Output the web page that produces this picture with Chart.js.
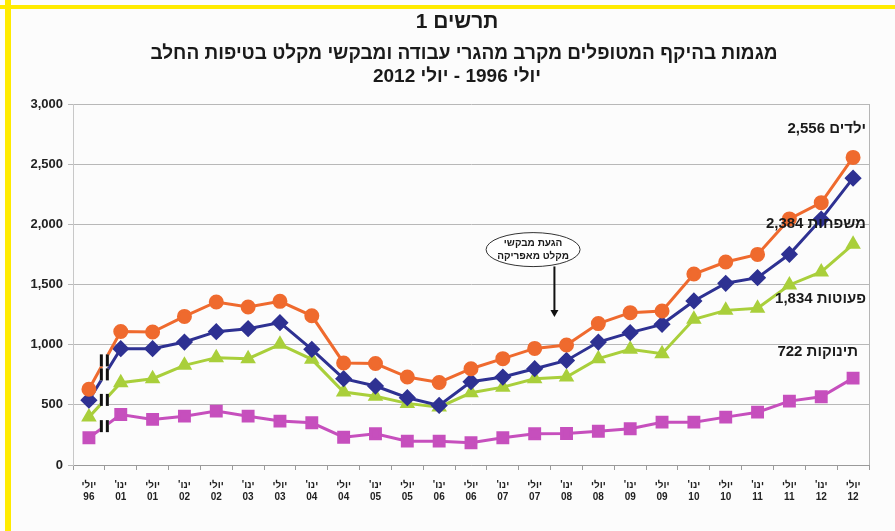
<!DOCTYPE html>
<html><head><meta charset="utf-8">
<script src="https://cdn.jsdelivr.net/npm/chart.js@4/dist/chart.umd.min.js"></script>
<style>
html,body{margin:0;padding:0;background:#fcfcfc;}
#wrap{position:absolute;left:0;top:0;width:895px;height:531px;}
#ybar{position:absolute;left:5px;top:0;width:6px;height:531px;background:#ffeb00;}
#ytop{position:absolute;left:0;top:5px;width:895px;height:4px;background:#ffeb00;}
canvas{position:absolute;left:0;top:0;}
</style></head><body>
<div id="wrap"><div id="ytop"></div><div id="ybar"></div><canvas id="c" width="895" height="531" dir="rtl"></canvas></div>
<script>
const categories = [["יולי","96"],["ינו'","01"],["יולי","01"],["ינו'","02"],["יולי","02"],["ינו'","03"],["יולי","03"],["ינו'","04"],["יולי","04"],["ינו'","05"],["יולי","05"],["ינו'","06"],["יולי","06"],["ינו'","07"],["יולי","07"],["ינו'","08"],["יולי","08"],["ינו'","09"],["יולי","09"],["ינו'","10"],["יולי","10"],["ינו'","11"],["יולי","11"],["ינו'","12"],["יולי","12"]];
const children = [629,1110,1105,1235,1355,1313,1360,1240,848,843,731,686,800,884,969,997,1175,1266,1280,1587,1687,1750,2045,2180,2556];
const families = [539,967,967,1022,1108,1133,1183,961,717,656,559,495,692,731,800,869,1022,1100,1169,1363,1510,1557,1751,2043,2384];
const toddlers = [398,684,717,828,892,884,1003,878,606,572,512,481,600,647,717,731,884,961,925,1211,1285,1302,1496,1604,1834];
const infants = [226,420,379,406,448,406,365,351,231,260,198,198,185,226,260,262,281,301,356,356,398,439,531,567,722];
const seriesLabels = ["ילדים","משפחות","פעוטות","תינוקות"];
const endLabels = ["ילדים 2,556","משפחות 2,384","פעוטות 1,834","תינוקות 722"];
const yTicks = [0,500,1000,1500,2000,2500,3000];
const titleLines = ["תרשים 1","מגמות בהיקף המטופלים מקרב מהגרי עבודה ומבקשי מקלט בטיפות החלב","יולי 1996 - יולי 2012"];
const noteLines = ["הגעת מבקשי","מקלט מאפריקה"];

const FONT = '"Liberation Sans","DejaVu Sans",Arial,sans-serif';
const C_OR='#ef6a2e', C_BL='#2e3192', C_GR='#a9cf3b', C_PK='#c64fbd';

const overlay = {
  id:'overlay',
  beforeDraw(chart){
    const ctx=chart.ctx;
    ctx.save();
    ctx.direction='rtl';
    ctx.fillStyle='#1a1a1a';
    ctx.textAlign='center';
    ctx.textBaseline='middle';
    ctx.font='bold 21px '+FONT;
    ctx.fillText(titleLines[0],457,22);
    ctx.font='bold 19px '+FONT;
    ctx.fillText(titleLines[1],464,54);
    ctx.fillText(titleLines[2],457,77);
    ctx.restore();
  },
  afterDraw(chart){
    const ctx=chart.ctx, xs=chart.scales.x, ys=chart.scales.y, a=chart.chartArea;
    ctx.save();
    ctx.strokeStyle='#b5b5b5'; ctx.lineWidth=1;
    ctx.beginPath(); ctx.moveTo(a.right+0.5,a.top); ctx.lineTo(a.right+0.5,a.bottom); ctx.stroke();
    chart.data.datasets.forEach((ds,i)=>{
      const m=chart.getDatasetMeta(i);
      const p0=m.data[0], p1=m.data[1];
      const mx=(p0.x+p1.x)/2, my=(p0.y+p1.y)/2;
      ctx.fillStyle='#ffffff';
      ctx.fillRect(mx-5,my-6,9,12);
      ctx.fillStyle='#111';
      ctx.fillRect(mx-5,my-6,3,12);
      ctx.fillRect(mx+1,my-6,3,12);
    });
    ctx.direction='rtl';
    ctx.fillStyle='#1a1a1a';
    ctx.textAlign='right';
    ctx.textBaseline='middle';
    ctx.font='bold 15px '+FONT;
    const labVals=[2790,2000,1377,944];
    const labX=[a.right-3,a.right-3,a.right-3,a.right-11];
    endLabels.forEach((t,i)=>ctx.fillText(t,labX[i],ys.getPixelForValue(labVals[i])));
    const step=xs.getPixelForValue(1)-xs.getPixelForValue(0);
    const ex=xs.getPixelForValue(13)+step*0.95, ey=ys.getPixelForValue(1790);
    ctx.beginPath(); ctx.ellipse(ex,ey,47,17,0,0,Math.PI*2);
    ctx.fillStyle='#ffffff'; ctx.fill();
    ctx.strokeStyle='#333'; ctx.lineWidth=1; ctx.stroke();
    ctx.fillStyle='#1a1a1a'; ctx.textAlign='center';
    ctx.font='bold 10px '+FONT;
    ctx.fillText(noteLines[0],ex,ey-6);
    ctx.fillText(noteLines[1],ex,ey+7);
    const ax=xs.getPixelForValue(14)+step*0.62;
    const ay0=ys.getPixelForValue(1650), ay1=ys.getPixelForValue(1230);
    ctx.strokeStyle='#111'; ctx.lineWidth=2;
    ctx.beginPath(); ctx.moveTo(ax,ay0); ctx.lineTo(ax,ay1-6); ctx.stroke();
    ctx.fillStyle='#111';
    ctx.beginPath(); ctx.moveTo(ax-4,ay1-7); ctx.lineTo(ax+4,ay1-7); ctx.lineTo(ax,ay1); ctx.closePath(); ctx.fill();
    ctx.restore();
  }
};

function ds(label,data,color,style,r){
  return {label,data,borderColor:color,backgroundColor:color,pointBackgroundColor:color,pointBorderColor:color,
    pointStyle:style,pointRadius:r,pointHoverRadius:r,borderWidth:3,tension:0};
}

new Chart(document.getElementById('c'),{
  type:'line',
  data:{labels:categories,datasets:[
    ds(seriesLabels[0],children,C_OR,'circle',6),
    ds(seriesLabels[1],families,C_BL,'rectRot',6.5),
    ds(seriesLabels[2],toddlers,C_GR,'triangle',6),
    ds(seriesLabels[3],infants,C_PK,'rect',7)
  ]},
  options:{
    responsive:false,animation:false,devicePixelRatio:1,locale:'en-US',
    layout:{padding:{top:104,left:0,right:26,bottom:20}},
    plugins:{legend:{display:false},title:{display:false},tooltip:{enabled:false}},
    scales:{
      x:{offset:true,
        grid:{display:true,offset:true,drawOnChartArea:false,drawTicks:true,tickLength:5,color:'#9a9a9a'},
        border:{display:true,color:'#9a9a9a'},
        ticks:{autoSkip:false,maxRotation:0,minRotation:0,color:'#222',font:{family:FONT,size:10,weight:'bold'},padding:9,lineHeight:1.3},
        afterFit(s){s.height=46;}
      },
      y:{min:0,max:3000,
        afterBuildTicks(s){s.ticks=yTicks.map(v=>({value:v}));},
        grid:{color:'#b8b8b8',tickLength:5,drawTicks:true},
        border:{display:true,color:'#c8c8c8'},
        ticks:{color:'#222',font:{family:FONT,size:13,weight:'bold'},padding:5},
        afterFit(s){s.width=73;}
      }
    }
  },
  plugins:[overlay]
});
</script>
</body></html>
